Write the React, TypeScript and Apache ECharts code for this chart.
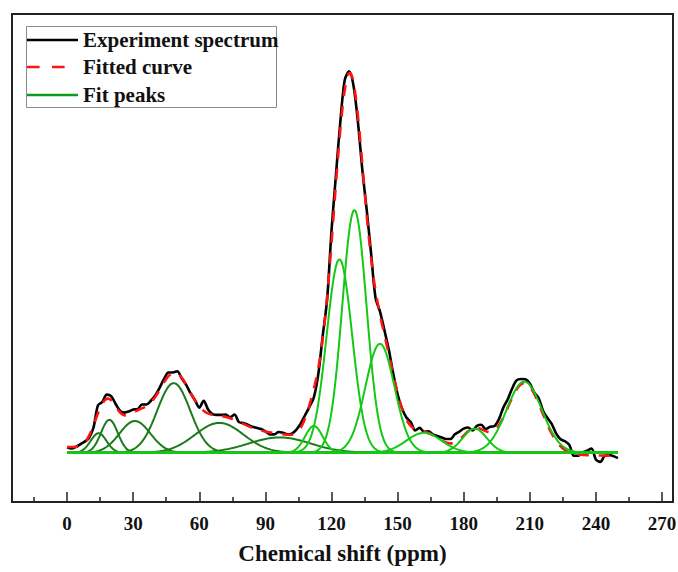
import React, { useEffect, useRef } from "react";
import * as echarts from "echarts";

// ---------- data ----------
// Experiment spectrum, sampled every 2 ppm from 0 to 250 ppm
const expStep = 2;
const expIntensity = [
  1.4, 1.1, 1.5, 2.2, 2.9, 3.9, 6.6, 12.4, 13.3, 15.2,
  14.8, 12.8, 11.0, 10.5, 10.8, 11.3, 11.4, 12.6, 12.6, 13.6,
  15.0, 17.0, 19.3, 21.0, 21.0, 21.3, 19.5, 17.8, 15.6, 13.8,
  11.8, 13.6, 11.3, 10.1, 9.9, 9.9, 10.0, 9.3, 10.0, 8.0,
  7.8, 7.3, 6.8, 6.5, 6.2, 5.6, 4.8, 4.8, 5.4, 5.2,
  4.8, 5.0, 6.0, 7.6, 9.8, 12.0, 14.5, 20.5, 30.5, 40.0,
  58.0, 72.5, 86.5, 97.5, 99.8, 96.0, 86.5, 74.0, 63.5, 52.0,
  40.5, 37.0, 32.1, 27.0, 20.8, 15.3, 11.6, 9.2, 8.0, 5.8,
  6.5, 5.5, 5.6, 4.8, 4.4, 4.0, 3.6, 3.6, 4.8, 5.5,
  6.3, 6.6, 5.8, 7.0, 7.3, 6.2, 6.8, 7.0, 8.8, 11.8,
  14.0, 16.8, 18.9, 19.3, 19.2, 18.1, 15.8, 14.3, 11.0, 9.1,
  7.5, 5.0, 3.5, 3.0, 2.0, -0.8, -0.8, 0.1, 0.5, 1.1,
  -1.8, -2.4, -0.8, -0.6, -0.9, -1.4,
];

// Fit peaks (Gaussian components): centre (ppm), height, width (sigma, ppm)
const peakCenters = [14.3, 19.2, 30.8, 48.4, 69.1, 96.5, 112, 123.6, 130.4, 142, 162, 185, 207.5];
const peakHeights = [5.1, 8.6, 8.3, 18.2, 7.8, 4.0, 7.0, 50.6, 63.5, 28.5, 5.2, 6.3, 18.6];
const peakWidths = [3.6, 3.8, 7.0, 7.5, 11.0, 14.0, 4.0, 5.8, 5.5, 6.6, 8.0, 5.5, 8.0];
const peakIsAliphatic = [true, true, true, true, true, true, false, false, false, false, false, false, false];
// fitted-curve baseline at the two ends of the range
const fitBaselineStart = 1.5;
const fitBaselineEnd = -0.8;

const majorTicks = [0, 30, 60, 90, 120, 150, 180, 210, 240, 270];
const minorTicks = [-15, 15, 45, 75, 105, 135, 165, 195, 225, 255];

const RANGE_START = 0;
const RANGE_END = 250;
const FIT_STEP = 0.5;

const FONT = "'Liberation Serif', 'Times New Roman', serif";
const DARK_GREEN = "#1b7a1b";
const BRIGHT_GREEN = "#14c814";

function gaussian(x: number, c: number, h: number, s: number) {
  const d = (x - c) / s;
  return h * Math.exp(-0.5 * d * d);
}

export default function App() {
  const ref = useRef<HTMLDivElement>(null);

  useEffect(() => {
    if (!ref.current) return;
    const chart = echarts.init(ref.current, undefined, { renderer: "svg" });

    const expData = expIntensity.map((v, i) => [i * expStep, v]);

    const xs: number[] = [];
    for (let x = RANGE_START; x <= RANGE_END + 1e-9; x += FIT_STEP) xs.push(x);

    const peakSeries = peakCenters.map((c, k) => ({
      type: "line" as const,
      name: "Fit peaks",
      showSymbol: false,
      silent: true,
      data: xs.map((x) => [x, gaussian(x, c, peakHeights[k], peakWidths[k])]),
      lineStyle: { color: peakIsAliphatic[k] ? DARK_GREEN : BRIGHT_GREEN, width: 2 },
      z: peakIsAliphatic[k] ? 3 : 4,
    }));

    const fitData = xs.map((x) => {
      let s = fitBaselineStart + ((fitBaselineEnd - fitBaselineStart) * (x - RANGE_START)) / (RANGE_END - RANGE_START);
      for (let k = 0; k < peakCenters.length; k++) s += gaussian(x, peakCenters[k], peakHeights[k], peakWidths[k]);
      return [x, s];
    });

    const axisColor = "#222";

    chart.setOption({
      animation: false,
      backgroundColor: "#fff",
      grid: {
        left: 12,
        right: 5,
        top: 14,
        bottom: 70,
        show: true,
        borderColor: axisColor,
        borderWidth: 2,
        backgroundColor: "transparent",
        containLabel: false,
        outerBoundsMode: "none",
      },
      xAxis: [
        {
          type: "value",
          min: -25,
          max: 275,
          position: "bottom",
          axisLine: { show: false, onZero: false },
          splitLine: { show: false },
          axisTick: {
            show: true,
            inside: true,
            length: 10,
            lineStyle: { color: axisColor, width: 1.5 },
            customValues: majorTicks,
          },
          axisLabel: {
            customValues: majorTicks,
            fontFamily: FONT,
            fontWeight: "bold",
            fontSize: 19,
            color: "#111",
            margin: 12,
          },
          name: "Chemical shift (ppm)",
          nameLocation: "middle",
          nameGap: 40,
          nameTextStyle: { fontFamily: FONT, fontWeight: "bold", fontSize: 23, color: "#111" },
        },
        {
          type: "value",
          min: -25,
          max: 275,
          position: "bottom",
          axisLine: { show: false, onZero: false },
          splitLine: { show: false },
          axisTick: {
            show: true,
            inside: true,
            length: 5,
            lineStyle: { color: axisColor, width: 1.5 },
            customValues: minorTicks,
          },
          axisLabel: { show: false },
        },
      ],
      yAxis: { type: "value", min: -12.9, max: 114.8, show: false, splitLine: { show: false } },
      series: [
        {
          type: "line",
          name: "Experiment spectrum",
          showSymbol: false,
          silent: true,
          smooth: 0.3,
          data: expData,
          lineStyle: { color: "#000", width: 2.6 },
          z: 1,
        },
        {
          type: "line",
          name: "Fitted curve",
          showSymbol: false,
          silent: true,
          data: fitData,
          lineStyle: { color: "#ff1414", width: 2.6, type: [11, 10] },
          z: 2,
        },
        ...peakSeries,
      ],
      graphic: [
        {
          type: "rect",
          shape: { x: 26.5, y: 26.5, width: 250, height: 81 },
          style: { fill: "#fff", stroke: "#8a8a8a", lineWidth: 1 },
          z: 10,
        },
        {
          type: "line",
          shape: { x1: 27, y1: 40, x2: 78, y2: 40 },
          style: { stroke: "#000", lineWidth: 2.5 },
          z: 11,
        },
        {
          type: "line",
          shape: { x1: 27, y1: 67, x2: 65, y2: 67 },
          style: { stroke: "#ff1414", lineWidth: 2.5, lineDash: [12.6, 12.4] },
          z: 11,
        },
        {
          type: "line",
          shape: { x1: 27, y1: 95, x2: 78, y2: 95 },
          style: { stroke: "#0c9c1c", lineWidth: 2.5 },
          z: 11,
        },
        {
          type: "text",
          x: 83,
          y: 40,
          style: { text: "Experiment spectrum", fill: "#111", font: `bold 21px ${FONT}`, verticalAlign: "middle" },
          z: 11,
        },
        {
          type: "text",
          x: 83,
          y: 67,
          style: { text: "Fitted curve", fill: "#111", font: `bold 21px ${FONT}`, verticalAlign: "middle" },
          z: 11,
        },
        {
          type: "text",
          x: 83,
          y: 95,
          style: { text: "Fit peaks", fill: "#111", font: `bold 21px ${FONT}`, verticalAlign: "middle" },
          z: 11,
        },
      ],
    });

    return () => chart.dispose();
  }, []);

  return <div ref={ref} style={{ position: "fixed", left: 0, top: 0, width: 678, height: 572 }} />;
}
